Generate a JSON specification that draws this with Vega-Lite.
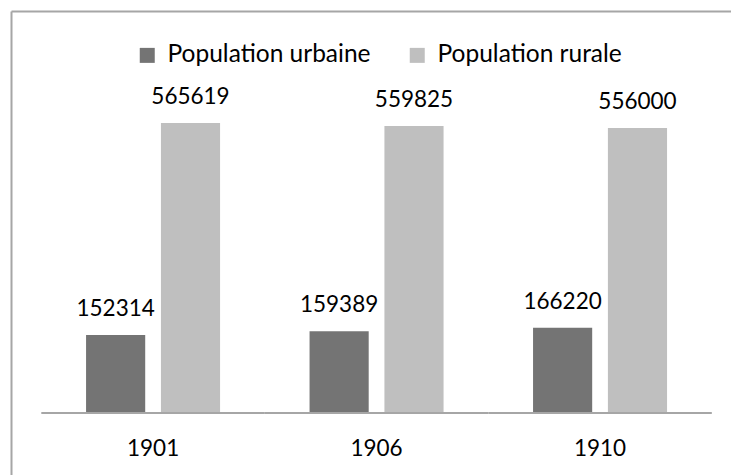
{
  "$schema": "https://vega.github.io/schema/vega-lite/v6.json",
  "width": 720,
  "height": 464,
  "padding": {"left": 11, "top": 11, "right": 0, "bottom": 0},
  "autosize": {"type": "none"},
  "background": "white",
  "config": {"view": {"stroke": null}, "font": "Lato"},
  "data": {"values": [
    {"year": "1901", "series": "Population urbaine", "value": 152314},
    {"year": "1901", "series": "Population rurale", "value": 565619},
    {"year": "1906", "series": "Population urbaine", "value": 159389},
    {"year": "1906", "series": "Population rurale", "value": 559825},
    {"year": "1910", "series": "Population urbaine", "value": 166220},
    {"year": "1910", "series": "Population rurale", "value": 556000}
  ]},
  "encoding": {
    "x": {
      "field": "year", "type": "nominal", "sort": null,
      "scale": {"paddingInner": 0.4004, "paddingOuter": 0.311, "align": 0.54},
      "axis": {"orient": "top", "title": null, "labels": false, "ticks": false, "grid": false, "domain": true, "domainColor": "#a6a6a6", "domainWidth": 2}
    }
  },
  "layer": [
    {
      "mark": {"type": "bar"},
      "encoding": {
        "xOffset": {"field": "series", "type": "nominal", "sort": ["Population urbaine", "Population rurale"], "scale": {"paddingInner": 0.21, "paddingOuter": 0}},
        "y": {
          "field": "value", "type": "quantitative",
          "scale": {"domain": [-120930, 784080], "nice": false, "zero": false},
          "axis": {"title": null, "labels": false, "ticks": false, "grid": false, "domain": true, "domainColor": "#a6a6a6", "domainWidth": 2}
        },
        "color": {
          "field": "series", "type": "nominal", "sort": ["Population urbaine", "Population rurale"],
          "scale": {"range": ["#747474", "#bfbfbf"]},
          "legend": {
            "orient": "none", "legendX": 124, "legendY": 32, "direction": "horizontal", "title": null,
            "symbolType": "square", "symbolSize": 225, "symbolStrokeWidth": 0,
            "labelFontSize": 24.5, "labelFont": "Lato", "labelColor": "#000000", "labelOffset": 8,
            "columnPadding": 34, "labelLimit": 400
          }
        }
      }
    },
    {
      "data": {"values": [{"year": "1901"}, {"year": "1906"}, {"year": "1910"}]},
      "mark": {"type": "bar", "width": {"band": 1.668}, "color": "#a6a6a6"},
      "encoding": {
        "y": {"datum": 1950, "type": "quantitative"},
        "y2": {"datum": -1950}
      }
    },
    {
      "mark": {"type": "text", "baseline": "middle", "align": "center", "dy": -26, "fontSize": 22.5, "font": "Lato", "color": "#000000"},
      "encoding": {
        "xOffset": {"field": "series", "type": "nominal", "sort": ["Population urbaine", "Population rurale"]},
        "y": {"field": "value", "type": "quantitative"},
        "text": {"field": "value", "type": "quantitative", "format": "d"}
      }
    },
    {
      "data": {"values": [{"year": "1901"}, {"year": "1906"}, {"year": "1910"}]},
      "mark": {"type": "text", "baseline": "middle", "align": "center", "fontSize": 22.5, "font": "Lato", "color": "#000000"},
      "encoding": {
        "y": {"datum": -70200, "type": "quantitative"},
        "text": {"field": "year", "type": "nominal"}
      }
    }
  ]
}
